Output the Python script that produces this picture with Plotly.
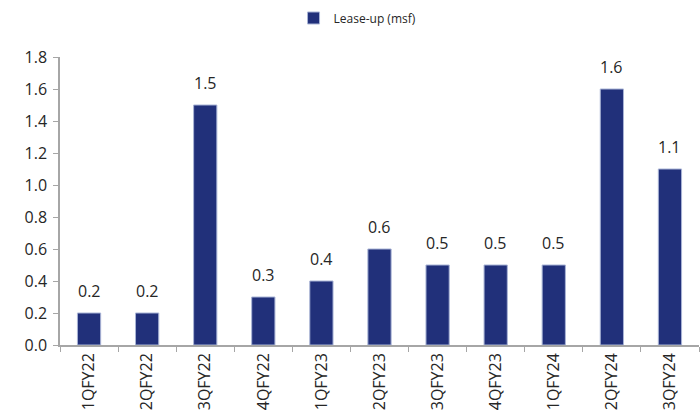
import plotly.graph_objects as go

categories = ["1QFY22", "2QFY22", "3QFY22", "4QFY22", "1QFY23", "2QFY23",
              "3QFY23", "4QFY23", "1QFY24", "2QFY24", "3QFY24"]
lease_up = [0.2, 0.2, 1.5, 0.3, 0.4, 0.6, 0.5, 0.5, 0.5, 1.6, 1.1]
y_ticks = [0.0, 0.2, 0.4, 0.6, 0.8, 1.0, 1.2, 1.4, 1.6, 1.8]

FONT = "Open Sans"
fig = go.Figure()
fig.add_trace(go.Bar(
    x=categories, y=lease_up, name="Lease-up (msf)",
    marker=dict(color="#21307A", line=dict(color="#A9B4D6", width=1)),
    width=0.4,
))
for c, v in zip(categories, lease_up):
    fig.add_annotation(x=c, y=v, text=f"{v:.1f}", showarrow=False,
                       yanchor="bottom", yshift=9,
                       font=dict(size=16, color="#262626", family=FONT))
fig.update_layout(
    width=700, height=414,
    margin=dict(l=60, r=1, t=57, b=69, autoexpand=False),
    paper_bgcolor="white", plot_bgcolor="white",
    font=dict(family=FONT, size=16, color="#262626"),
    showlegend=True,
    legend=dict(orientation="h", x=0.5 - 22 / 640, xref="paper", xanchor="center",
                y=1 - 18 / 414, yref="container", yanchor="middle",
                itemwidth=30,
                font=dict(size=12, color="#262626", family=FONT)),
)
fig.update_xaxes(
    type="category", showline=True, linecolor="#A6A6A6", linewidth=1.5,
    ticks="outside", tickson="boundaries", ticklen=5, tickcolor="#A6A6A6",
    tickangle=-90, tickfont=dict(size=16, color="#262626"), showgrid=False,
)
fig.update_yaxes(
    range=[0, 1.8], tickvals=y_ticks, ticktext=[f"{v:.1f}" for v in y_ticks],
    showline=True, linecolor="#A6A6A6", linewidth=1.5,
    ticks="outside", ticklen=5, tickcolor="#A6A6A6", ticklabelstandoff=3,
    tickfont=dict(size=16, color="#262626"), showgrid=False, zeroline=False,
)
fig.write_html("out.html")
